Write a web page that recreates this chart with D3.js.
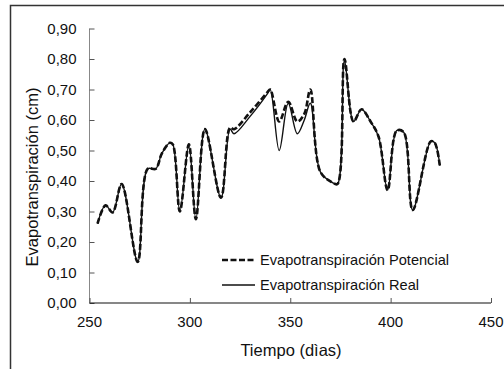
<!DOCTYPE html>
<html>
<head>
<meta charset="utf-8">
<script src="https://cdn.jsdelivr.net/npm/d3@7"></script>
<style>
  body { margin: 0; background: #fff; }
  text { font-family: "Liberation Sans", Arial, sans-serif; fill: #111; }
</style>
</head>
<body>
<div id="svg-container"></div>
<script>
// datos
const days = [254, 258, 261.5, 266, 274, 279, 283, 286, 290, 291.5, 295, 299.5, 303, 307.5, 315.5,
  320, 322, 330, 338.5, 340, 344.5, 349, 353.5, 357, 360, 365, 371, 373.5, 377, 381.5, 385.5,
  390, 394, 398.5, 403, 406.5, 411, 420, 422, 424.5];
const potencial = [0.26, 0.32, 0.297, 0.39, 0.135, 0.44, 0.44, 0.49, 0.525, 0.52, 0.30, 0.52, 0.275, 0.57, 0.345,
  0.575, 0.57, 0.625, 0.69, 0.70, 0.595, 0.66, 0.595, 0.62, 0.70, 0.43, 0.395, 0.39, 0.80, 0.595, 0.635,
  0.595, 0.545, 0.37, 0.565, 0.56, 0.305, 0.53, 0.525, 0.45];
const real = [0.26, 0.32, 0.297, 0.39, 0.135, 0.44, 0.44, 0.49, 0.525, 0.52, 0.30, 0.52, 0.275, 0.57, 0.345,
  0.57, 0.555, 0.612, 0.685, 0.70, 0.50, 0.655, 0.555, 0.60, 0.655, 0.43, 0.395, 0.39, 0.795, 0.595, 0.635,
  0.595, 0.545, 0.37, 0.565, 0.56, 0.305, 0.53, 0.525, 0.45];
const xTicks = [250, 300, 350, 400, 450];
const yTicks = [0, 0.1, 0.2, 0.3, 0.4, 0.5, 0.6, 0.7, 0.8, 0.9];
const legendLabels = ["Evapotranspiración Potencial", "Evapotranspiración Real"];

const width = 504, height = 369;
const margin = { top: 28.5, right: 13, bottom: 66, left: 89.5 };

const svg = d3.select("#svg-container").append("svg")
  .attr("width", width).attr("height", height);

// marco
svg.append("path")
  .attr("d", `M10.5,${height} V5.5 H${width}`)
  .attr("fill", "none").attr("stroke", "#333").attr("stroke-width", 1.5);

const x = d3.scaleLinear().domain([250, 450]).range([margin.left, width - margin.right]);
const y = d3.scaleLinear().domain([0, 0.9]).range([height - margin.bottom, margin.top]);

const fmt = d => d3.format(".2f")(d).replace(".", ",");

// eje y
const yAxis = svg.append("g")
  .attr("transform", `translate(${margin.left},0)`)
  .call(d3.axisRight(y).tickValues(yTicks).tickSize(5).tickFormat(""));
yAxis.select(".domain").attr("stroke", "#888").attr("d", `M0,${y(0.9)}V${y(0)}`);
yAxis.selectAll(".tick line").attr("stroke", "#555");

svg.selectAll(".ylab").data(yTicks).enter().append("text")
  .attr("x", margin.left - 13).attr("y", d => y(d) + 5)
  .style("text-anchor", "end").style("font-size", "15px")
  .text(fmt);

// eje x
const xAxis = svg.append("g")
  .attr("transform", `translate(0,${y(0)})`)
  .call(d3.axisTop(x).tickValues(xTicks).tickSize(5).tickFormat(""));
xAxis.select(".domain").attr("stroke", "#111").attr("stroke-width", 1.2)
  .attr("d", `M${x(250)},0H${x(450)}`);
xAxis.selectAll(".tick line").attr("stroke", "#555");

svg.selectAll(".xlab").data(xTicks).enter().append("text")
  .attr("x", d => x(d)).attr("y", y(0) + 24)
  .style("text-anchor", "middle").style("font-size", "15px")
  .text(d => d);

// titulos
svg.append("text")
  .attr("transform", `translate(38,177) rotate(-90)`)
  .style("text-anchor", "middle").style("font-size", "16.5px")
  .text("Evapotranspiración (cm)");

svg.append("text")
  .attr("x", 291).attr("y", 356)
  .style("text-anchor", "middle").style("font-size", "16.5px")
  .text("Tiempo (dìas)");

// lineas
const line = d3.line()
  .x(d => x(d[0]))
  .y(d => y(d[1]))
  .curve(d3.curveCatmullRom.alpha(0.5));

svg.append("path")
  .datum(days.map((d, i) => [d, potencial[i]]))
  .attr("d", line)
  .attr("fill", "none").attr("stroke", "#111")
  .attr("stroke-width", 2.6).attr("stroke-dasharray", "6,2.5");

svg.append("path")
  .datum(days.map((d, i) => [d, real[i]]))
  .attr("d", line)
  .attr("fill", "none").attr("stroke", "#111")
  .attr("stroke-width", 1.4);

// leyenda
const legend = svg.selectAll(".legend").data(legendLabels).enter().append("g")
  .attr("transform", (d, i) => `translate(222,${260 + i * 25})`);
legend.append("line")
  .attr("x1", 0).attr("x2", 33).attr("y1", 0).attr("y2", 0)
  .attr("stroke", "#111")
  .attr("stroke-width", (d, i) => i == 0 ? 2.6 : 1.4)
  .attr("stroke-dasharray", (d, i) => i == 0 ? "6,2.5" : null);
legend.append("text")
  .attr("x", 38).attr("y", 5)
  .style("font-size", "14.6px")
  .text(d => d);
</script>
</body>
</html>
